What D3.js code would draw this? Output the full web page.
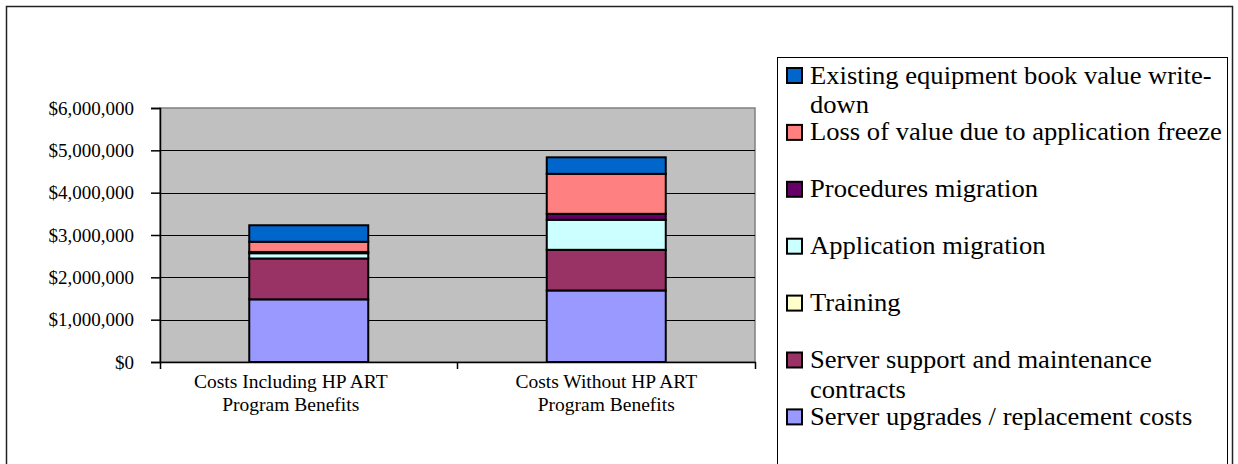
<!DOCTYPE html>
<html lang="en">
  <head>
    <meta charset="utf-8">
    <script src="https://d3js.org/d3.v7.min.js"></script>
    <style>
      body {margin: 0; background: white;}
      svg text, svg tspan {font-family: "Liberation Serif", "DejaVu Serif", serif !important; fill: black;}
    </style>
  </head>
  <body>
    <script type="text/javascript">
      // categories and series, bottom of the stack first
      const categories = ["Costs Including HP ART Program Benefits", "Costs Without HP ART Program Benefits"];
      const seriesNames = [
        "Server upgrades / replacement costs",
        "Server support and maintenance contracts",
        "Training",
        "Application migration",
        "Procedures migration",
        "Loss of value due to application freeze",
        "Existing equipment book value write-down"
      ];
      const upgrades   = [1480000, 1690000];
      const support    = [965000, 960000];
      const training   = [0, 0];
      const appMig     = [125000, 710000];
      const procMig    = [30000, 140000];
      const lossValue  = [240000, 945000];
      const writeDown  = [390000, 390000];
      const yTicks = [0, 1000000, 2000000, 3000000, 4000000, 5000000, 6000000];
      const colors = ["#9999FF", "#993366", "#FFFFCC", "#CCFFFF", "#660066", "#FF8080", "#0066CC"];

      const w = 1238;
      const h = 464;
      const plot = {left: 160, right: 755, top: 108, bottom: 362};
      const serif = "'Liberation Serif', 'DejaVu Serif', serif";
      // the first category label sits a little left of its bar in the original
      const labelShift = [-18, 0];

      var svg = d3.select("body")
            .append("svg")
            .attr("width", w)
            .attr("height", h)
            .attr("font-family", serif);

      // outer chart border
      svg.append("rect")
          .attr("x", 6.5).attr("y", 6.5)
          .attr("width", 1226).attr("height", 480)
          .attr("fill", "white")
          .attr("stroke", "#222")
          .attr("stroke-width", 1.5);

      // build rows for the stack
      const allSeries = [upgrades, support, training, appMig, procMig, lossValue, writeDown];
      const rows = categories.map(function(c, i) {
        let row = {category: c};
        seriesNames.forEach(function(s, j) { row[s] = allSeries[j][i]; });
        return row;
      });
      const stacked = d3.stack().keys(seriesNames)(rows);

      var xScale = d3.scaleBand()
            .domain(categories)
            .range([plot.left, plot.right]);
      var yScale = d3.scaleLinear()
            .domain([0, 6000000])
            .range([plot.bottom, plot.top]);

      // plot area
      svg.append("rect")
          .attr("x", plot.left).attr("y", plot.top)
          .attr("width", plot.right - plot.left)
          .attr("height", plot.bottom - plot.top)
          .attr("fill", "#C0C0C0")
          .attr("stroke", "#808080")
          .attr("stroke-width", 1.5);

      // gridlines
      svg.append("g").selectAll("line")
          .data(yTicks.slice(1, -1))
          .enter()
          .append("line")
          .attr("x1", plot.left).attr("x2", plot.right)
          .attr("y1", function(d) { return Math.round(yScale(d)) + 0.5; })
          .attr("y2", function(d) { return Math.round(yScale(d)) + 0.5; })
          .attr("stroke", "black");

      // bars
      const barWidth = xScale.bandwidth() * 0.4;
      svg.append("g").selectAll("g")
          .data(stacked)
          .enter()
          .append("g")
          .attr("fill", function(d, i) { return colors[i]; })
          .selectAll("rect")
          .data(function(d) { return d.filter(function(p) { return p[1] - p[0] > 0; }); })
          .enter()
          .append("rect")
          .attr("x", function(d) { return xScale(d.data.category) + (xScale.bandwidth() - barWidth) / 2; })
          .attr("y", function(d) { return yScale(d[1]); })
          .attr("width", barWidth)
          .attr("height", function(d) { return yScale(d[0]) - yScale(d[1]); })
          .attr("stroke", "black")
          .attr("stroke-width", 2);

      // y axis
      var yAxis = d3.axisLeft(yScale)
            .tickValues(yTicks)
            .tickSize(9)
            .tickPadding(17)
            .tickFormat(function(d) { return "$" + d3.format(",")(d); });
      var yg = svg.append("g")
          .attr("transform", "translate(" + plot.left + ",0)")
          .call(yAxis)
          .attr("font-family", serif)
          .attr("font-size", 19);
      yg.selectAll("line, path").attr("stroke", "black").attr("stroke-width", 1.5);

      // x axis, ticks between categories
      var xg = svg.append("g")
          .attr("transform", "translate(0," + plot.bottom + ")")
          .call(d3.axisBottom(xScale).tickSize(0).tickSizeOuter(7).tickFormat(""));
      xg.select("path").attr("stroke", "black").attr("stroke-width", 1.5);
      xg.append("line")
          .attr("x1", xScale(categories[1])).attr("x2", xScale(categories[1]))
          .attr("y1", 0).attr("y2", 7)
          .attr("stroke", "black").attr("stroke-width", 1.5);

      // wraps a label on spaces and hyphens
      function wrapLines(str, maxWidth, sizer) {
        let tokens = str.match(/[^\s-]+-?\s*/g);
        let lines = [];
        let cur = "";
        tokens.forEach(function(t) {
          sizer.text((cur + t).trim());
          if (cur && sizer.node().getComputedTextLength() > maxWidth) {
            lines.push(cur.trim());
            cur = t;
          } else {
            cur += t;
          }
        });
        lines.push(cur.trim());
        return lines;
      }

      // category labels
      var sizer = svg.append("text").attr("font-size", 19.5).attr("opacity", 0);
      categories.forEach(function(c, i) {
        let lines = wrapLines(c, 230, sizer);
        let t = svg.append("text")
            .attr("text-anchor", "middle")
            .attr("font-size", 19.5);
        lines.forEach(function(l, k) {
          t.append("tspan")
              .attr("x", xScale(c) + xScale.bandwidth() / 2 + labelShift[i])
              .attr("y", 388 + k * 23)
              .text(l);
        });
      });
      sizer.remove();

      // legend
      const legendX = 777;
      const legendTop = 57;
      svg.append("rect")
          .attr("x", legendX + 0.5).attr("y", legendTop + 0.5)
          .attr("width", 450).attr("height", 420)
          .attr("fill", "white")
          .attr("stroke", "black");

      const legendFont = 25;
      var lsizer = svg.append("text").attr("font-size", legendFont).attr("opacity", 0);
      lsizer.text("Loss of value due to application freeze");
      const stretch = 412 / lsizer.node().getComputedTextLength();

      // top entry of the stack comes first in the legend
      const legendOrder = seriesNames.map(function(s, i) { return i; }).reverse();
      legendOrder.forEach(function(si, k) {
        let base = 83.5 + k * 56.9;
        svg.append("rect")
            .attr("x", 787).attr("y", base - 15.5)
            .attr("width", 15).attr("height", 15)
            .attr("fill", colors[si])
            .attr("stroke", "black")
            .attr("stroke-width", 2);
        let lines = wrapLines(seriesNames[si], 413 / stretch, lsizer);
        let t = svg.append("text")
            .attr("font-size", legendFont)
            .attr("transform", "translate(810," + base + ") scale(" + stretch + ",1)");
        lines.forEach(function(l, j) {
          t.append("tspan").attr("x", 0).attr("y", j * 30).text(l);
        });
      });
      lsizer.remove();
    </script>
  </body>
</html>
